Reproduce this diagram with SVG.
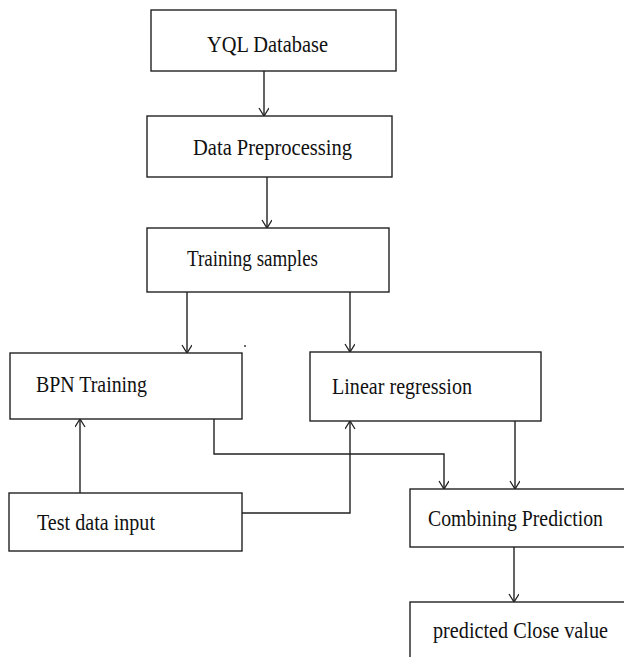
<svg xmlns="http://www.w3.org/2000/svg" width="624" height="657" viewBox="0 0 624 657">
<style>
.box{fill:#fff;stroke:#222;stroke-width:1.4}
.t{font-family:"Liberation Serif","Times New Roman",serif;font-size:23px;fill:#111}
.c{fill:none;stroke:#222;stroke-width:1.4}
</style>
<defs>
<marker id="ah" markerWidth="12" markerHeight="12" refX="9" refY="5" orient="auto" markerUnits="userSpaceOnUse">
<path d="M1,0 L9,5 L1,10" fill="none" stroke="#222" stroke-width="1.3"/>
</marker>
</defs>
<rect width="624" height="657" fill="#fff"/>
<g id="connectors">
<path class="c" d="M264,71 V116" marker-end="url(#ah)"/>
<path class="c" d="M267,177 V228" marker-end="url(#ah)"/>
<path class="c" d="M187,292 V353" marker-end="url(#ah)"/>
<path class="c" d="M350,292 V352" marker-end="url(#ah)"/>
<path class="c" d="M80,493 V419" marker-end="url(#ah)"/>
<path class="c" d="M242,513 H350 V421" marker-end="url(#ah)"/>
<path class="c" d="M214,419 V454 H444 V489" marker-end="url(#ah)"/>
<path class="c" d="M515,421 V489" marker-end="url(#ah)"/>
<path class="c" d="M514,547 V602" marker-end="url(#ah)"/>
<circle cx="245" cy="346" r="0.9" fill="#222"/>
</g>
<g id="yql"><rect class="box" x="151" y="10" width="245" height="61"/><text class="t" x="207" y="52" textLength="121" lengthAdjust="spacingAndGlyphs">YQL Database</text></g>
<g id="preprocessing"><rect class="box" x="147" y="116" width="245" height="61"/><text class="t" x="193" y="155" textLength="159" lengthAdjust="spacingAndGlyphs">Data Preprocessing</text></g>
<g id="training"><rect class="box" x="147" y="228" width="242" height="64"/><text class="t" x="187" y="266" textLength="131" lengthAdjust="spacingAndGlyphs">Training samples</text></g>
<g id="bpn"><rect class="box" x="10" y="353" width="232" height="66"/><text class="t" x="36" y="392" textLength="111" lengthAdjust="spacingAndGlyphs">BPN Training</text></g>
<g id="linear"><rect class="box" x="310" y="352" width="231" height="69"/><text class="t" x="332" y="394" textLength="140" lengthAdjust="spacingAndGlyphs">Linear regression</text></g>
<g id="test"><rect class="box" x="9" y="493" width="233" height="58"/><text class="t" x="37" y="530" textLength="118" lengthAdjust="spacingAndGlyphs">Test data input</text></g>
<g id="combining"><rect class="box" x="410" y="489" width="220" height="58"/><text class="t" x="428" y="526" textLength="175" lengthAdjust="spacingAndGlyphs">Combining Prediction</text></g>
<g id="predicted"><rect class="box" x="410" y="602" width="220" height="70"/><text class="t" x="433" y="638" textLength="175" lengthAdjust="spacingAndGlyphs">predicted Close value</text></g>
</svg>
